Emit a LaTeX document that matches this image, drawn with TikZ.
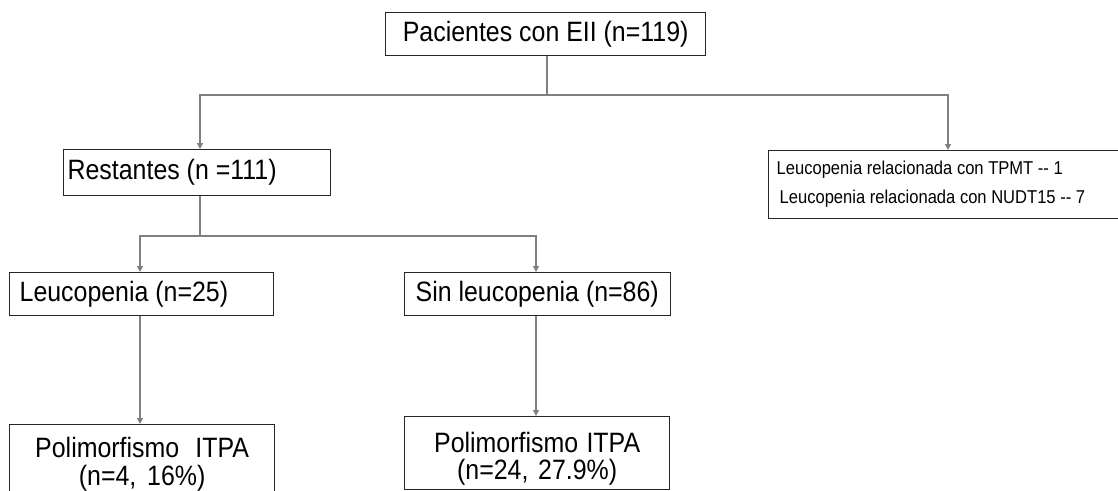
\documentclass[tikz,border=0pt]{standalone}
\usepackage{fontspec}
\setmainfont[FakeStretch=0.89]{Liberation Sans}
\usetikzlibrary{arrows.meta}
\frenchspacing
\begin{document}
\begin{tikzpicture}[x=1pt,y=-1pt,
  box/.style={draw=black!85, line width=1.3pt, rectangle, inner xsep=6pt, inner ysep=0pt,
    font=\fontsize{28}{30}\selectfont, anchor=north west,
    execute at begin node={\frenchspacing\spaceskip=0pt\xspaceskip=0pt\relax}},
  conn/.style={draw=black!50, line width=1.4pt},
  arr/.style={conn, -{Triangle[length=6pt,width=6pt]}}]
\useasboundingbox (0,0) rectangle (1118,490);
\clip (0,0) rectangle (1118,490);
\node[box, minimum width=320pt, minimum height=43pt] (top) at (385,12) {Pacientes con EII (n=119)};
\node[box, minimum width=267pt, minimum height=46pt, text width=259pt, align=left, inner xsep=4pt] (rest) at (63,149) {Restantes (n =111)};
\node[box, minimum width=380pt, minimum height=68pt, text width=364pt, align=left, inner xsep=8pt,
  font=\fontsize{18.6}{29}\selectfont] (tpmt) at (768,150) {Leucopenia relacionada con TPMT -{}- 1\\\hspace*{3pt}Leucopenia relacionada con NUDT15 -{}- 7};
\node[box, minimum width=264pt, minimum height=43pt, text width=254pt, align=left, inner xsep=5pt] (leu) at (9,272) {\hspace*{5pt}Leucopenia (n=25)};
\node[box, minimum width=266pt, minimum height=43pt, text width=256pt, align=left, inner xsep=5pt] (sin) at (404,272) {\hspace*{6pt}Sin leucopenia (n=86)};
\node[box, minimum width=265pt, minimum height=80pt, text width=253pt, align=center,
  font=\fontsize{28}{28}\selectfont] (p1) at (9,424) {\vphantom{(}Polimorfismo\ \ ITPA\\(n=4, 16\%)\\[16pt]};
\node[box, minimum width=265pt, minimum height=73pt, text width=253pt, align=center,
  font=\fontsize{28}{27}\selectfont] (p2) at (404,416) {\rule{0pt}{31pt}Polimorfismo ITPA\\(n=24, 27.9\%)};
\coordinate (j1) at (547,95);
\coordinate (j2) at (200,236);
\draw[conn] (top.south -| j1) -- (j1);
\draw[arr] (j1) -| (rest.north -| j2);
\draw[arr] (j1) -| (tpmt.north -| 948,0);
\draw[conn] (rest.south -| j2) -- (j2);
\draw[arr] (j2) -| (leu.north -| 140,0);
\draw[arr] (j2) -| (sin.north -| 536,0);
\draw[arr] (leu.south -| 140,0) -- (p1.north -| 140,0);
\draw[arr] (sin.south -| 536,0) -- (p2.north -| 536,0);
\end{tikzpicture}
\end{document}
